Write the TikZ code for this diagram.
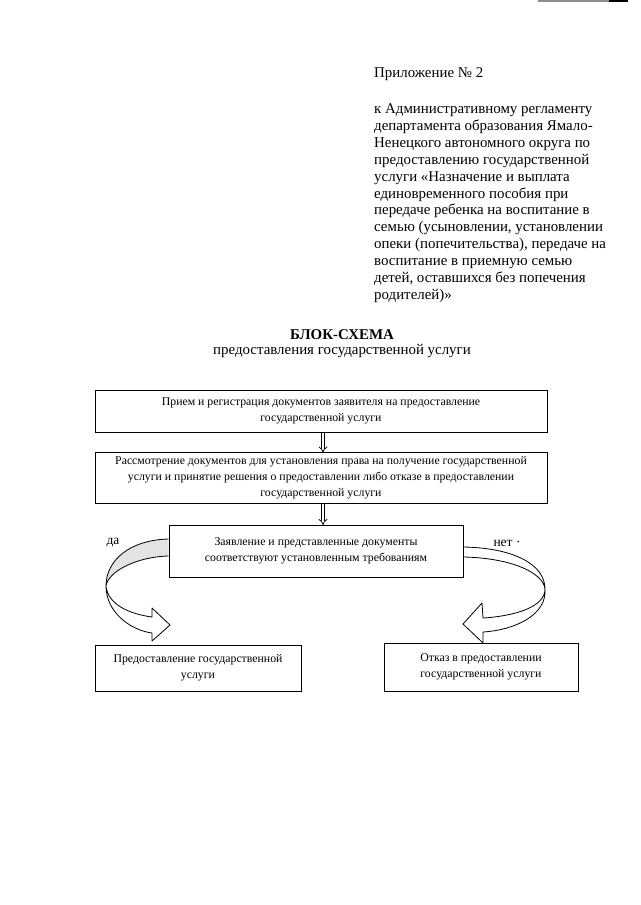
\documentclass[tikz,border=0pt]{standalone}
\usepackage{fontspec}
\setmainfont{Liberation Serif}
\usetikzlibrary{arrows.meta}

\begin{document}
\begin{tikzpicture}[x=1pt,y=-1pt]

\tikzstyle{stepbox}=[rectangle, draw=black, line width=1pt, align=center, inner sep=0pt, font=\fontsize{11.8}{15.8}\selectfont]
\tikzstyle{header}=[inner sep=0pt, font=\fontsize{14.9}{16.9}\selectfont]
\tikzstyle{answer}=[inner sep=0pt, font=\fontsize{13.5}{16}\selectfont]
\tikzstyle{connect}=[double, double distance=2.4pt, line width=0.7pt, -{Implies}]
\tikzstyle{ribbon}=[line width=0.8pt, draw=black, line join=round]
\tikzstyle{scanedge}=[line width=1.2pt]

\useasboundingbox (0,0) rectangle (640,905);

\draw[scanedge, black!45] (538,1) -- (609,1);
\draw[scanedge, black] (609,1) -- (628,1);

\node[header, anchor=base west] (annex) at (374,77) {Приложение № 2};
\node[header, anchor=north west, align=left] (regl) at (374,103.5) {к Административному регламенту\\
департамента образования Ямало-\\
Ненецкого автономного округа по\\
предоставлению государственной\\
услуги «Назначение и выплата\\
единовременного пособия при\\
передаче ребенка на воспитание в\\
семью (усыновлении, установлении\\
опеки (попечительства), передаче на\\
воспитание в приемную семью\\
детей, оставшихся без попечения\\
родителей)»};

\node[header, font=\fontsize{14.9}{16.9}\selectfont\bfseries] (title) at (342,335) {БЛОК-СХЕМА};
\node[header] (subtitle) at (342,351) {предоставления государственной услуги};



\node[stepbox, minimum width=452pt, minimum height=42pt] (recv) at (321,411) {Прием и регистрация документов заявителя на предоставление\\государственной услуги};
\node[stepbox, minimum width=452pt, minimum height=51pt] (exam) at (321,477.5) {Рассмотрение документов для установления права на получение государственной\\услуги и принятие решения о предоставлении либо отказе в предоставлении\\государственной услуги};
\node[stepbox, minimum width=294pt, minimum height=52pt] (check) at (316,551) {Заявление и представленные документы\\соответствуют установленным требованиям};
\node[stepbox, minimum width=206pt, minimum height=46pt] (grant) at (198,668) {Предоставление государственной\\услуги};
\node[stepbox, minimum width=194pt, minimum height=48pt] (refuse) at (481,667) {Отказ в предоставлении\\государственной услуги};

\node[answer] (yes) at (113,543) {да};
\node[answer] (no) at (507,543) {нет ·};

\draw[connect] (recv.south) ++(2,0) -- ++(0,20);
\draw[connect] (exam.south) ++(2,0) -- ++(0,21.5);

% yes / no turns
\fill[gray!22] (check.west |- 0,539) .. controls (130,540) and (106,560) .. (106,586)
  .. controls (108,572) and (135,557) .. (check.west |- 0,556) -- cycle;
\draw[ribbon] (check.west |- 0,539) .. controls (130,540) and (106,560) .. (106,586)
  .. controls (108,605) and (130,614) .. (152,617) -- (152,608) -- (170,625) -- (152,641) -- (152,633)
  .. controls (130,630) and (106,612) .. (106,586)
  .. controls (108,572) and (135,557) .. (check.west |- 0,556);
\draw[ribbon] (check.east |- 0,547) .. controls (515,548) and (545,565) .. (545,589)
  .. controls (545,607) and (515,616) .. (483,618) -- (482,603) -- (463,624) -- (483,643) -- (483,632)
  .. controls (515,630) and (547,615) .. (545,589)
  .. controls (543,572) and (510,558) .. (check.east |- 0,557);

\end{tikzpicture}
\end{document}
